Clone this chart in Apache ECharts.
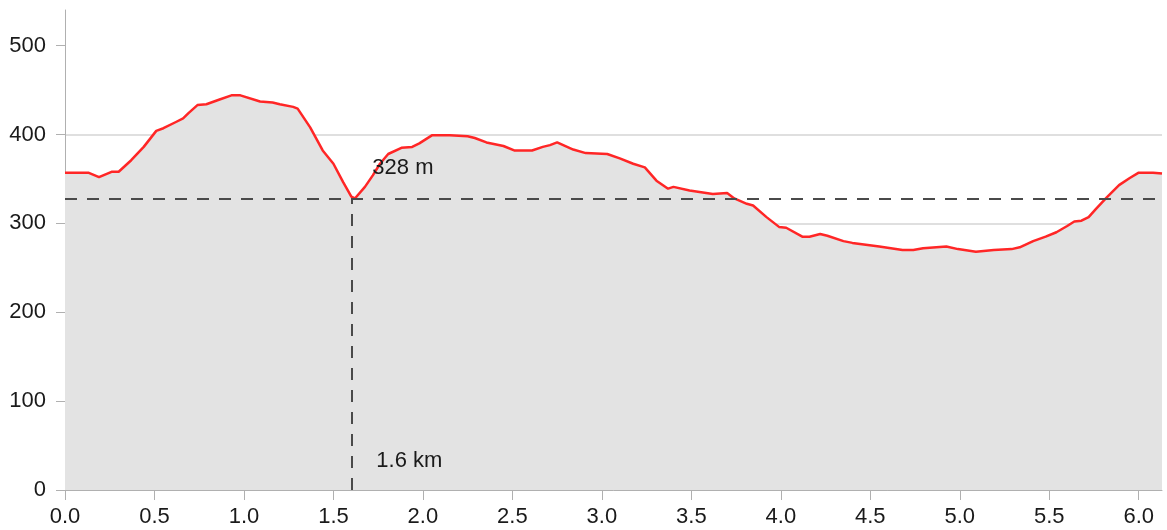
<!DOCTYPE html>
<html>
<head>
<meta charset="utf-8">
<script src="https://cdn.jsdelivr.net/npm/echarts@6/dist/echarts.min.js"></script>
<style>
html,body{margin:0;padding:0;background:#fff;}
#chart{width:1167px;height:530px;}
</style>
</head>
<body>
<div id="chart"></div>
<script>
// distance (km)
var dist = [0.00,0.13,0.19,0.26,0.30,0.37,0.44,0.51,0.55,0.62,0.66,0.69,0.74,0.79,0.86,0.93,0.98,1.09,1.16,1.20,1.21,1.275,1.30,1.37,1.44,1.50,1.555,1.60,1.62,1.676,1.72,1.76,1.806,1.88,1.94,1.98,2.05,2.15,2.25,2.29,2.355,2.45,2.51,2.61,2.67,2.71,2.75,2.84,2.91,3.03,3.10,3.175,3.24,3.305,3.37,3.40,3.49,3.62,3.70,3.74,3.81,3.845,3.92,3.99,4.03,4.12,4.16,4.22,4.26,4.35,4.40,4.55,4.68,4.74,4.795,4.925,4.99,5.09,5.19,5.29,5.335,5.41,5.48,5.54,5.60,5.64,5.68,5.72,5.76,5.82,5.89,5.95,6.00,6.08,6.13];
// elevation (m)
var elev = [357,357,352,358,358,371,386,404,407,414,418,424,433,434,439,444,444,437,436,434,435,431,429,408,382,367,346,330,328,341,354,367,378,385,386,390,399,399,398,396,391,387,382,382,386,388,391,383,379,378,373,367,363,348,339,341,337,333,334,328,322,320,307,296,295,285,285,288,286,280,278,274,270,270,272,274,271,268,270,271,273,280,285,290,297,302,303,307,316,329,343,351,357,357,356];
// marker (lowest point)
var markDist = 1.6;
var markElev = 328;
var markDistLabel = '1.6 km';
var markElevLabel = '328 m';
// axis ticks
var yTicks = [0,100,200,300,400,500];
var xMax = 6.13;
var yMax = 540;

var points = dist.map(function(d, i){ return [d, elev[i]]; });

var chart = echarts.init(document.getElementById('chart'), null, {renderer:'canvas'});
var fontFamily = '"Liberation Sans", Arial, sans-serif';
chart.setOption({
  animation: false,
  grid: {left: 65, right: 5, top: 10, bottom: 40, containLabel: false},
  xAxis: {
    type: 'value', min: 0, max: xMax, interval: 0.5,
    axisLine: {show: true, lineStyle: {color: '#b0b0b0', width: 1}},
    axisTick: {show: true, length: 10, lineStyle: {color: '#b0b0b0'}},
    axisLabel: {
      color: '#1a1a1a', fontSize: 22, fontFamily: fontFamily, margin: 16,
      showMaxLabel: false,
      formatter: function(v){ return v.toFixed(1); }
    },
    splitLine: {show: false}
  },
  yAxis: {
    type: 'value', min: 0, max: yMax, interval: 100,
    axisLine: {show: true, lineStyle: {color: '#b0b0b0', width: 1}},
    axisTick: {show: true, length: 9, lineStyle: {color: '#b0b0b0'}, customValues: yTicks},
    axisLabel: {color: '#1a1a1a', fontSize: 22, fontFamily: fontFamily, margin: 19, customValues: yTicks},
    splitLine: {show: true, showMaxLine: false, lineStyle: {color: '#d4d4d4', width: 1.5}}
  },
  series: [
    {
      type: 'line',
      data: points,
      symbol: 'none',
      smooth: false,
      lineStyle: {color: '#ff2626', width: 2.5},
      areaStyle: {color: '#e3e3e3', opacity: 1},
      z: 2,
      markLine: {
        silent: true,
        symbol: ['none','none'],
        label: {show: false},
        lineStyle: {color: '#4a4a4a', type: [12, 10], width: 2},
        data: [
          {yAxis: markElev},
          [{coord: [markDist, 0]}, {coord: [markDist, markElev]}]
        ]
      }
    },
    {
      type: 'scatter',
      symbolSize: 0,
      z: 5,
      silent: true,
      itemStyle: {opacity: 1},
      data: [
        {value: [markDist, markElev], label: {show: true, formatter: markElevLabel, position: [21, -31]}},
        {value: [markDist, 0], label: {show: true, formatter: markDistLabel, position: [25, -29]}}
      ],
      label: {
        show: true, color: '#1a1a1a', fontSize: 22, fontFamily: fontFamily,
        align: 'left', verticalAlign: 'middle', opacity: 1
      }
    }
  ]
});
</script>
</body>
</html>
